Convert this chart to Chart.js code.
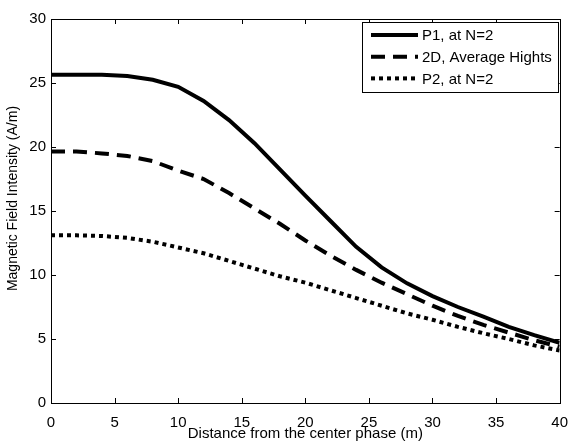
<!DOCTYPE html>
<html>
<head>
<meta charset="utf-8">
<script src="https://cdn.jsdelivr.net/npm/chart.js@4"></script>
<style>
  html, body { margin: 0; padding: 0; background: #fff; }
  canvas { display: block; }
</style>
</head>
<body>
<canvas id="fieldChart" width="571" height="443"></canvas>
<script>
// values
const distances = [0, 2, 4, 6, 8, 10, 12, 14, 16, 18, 20, 22, 24, 26, 28, 30, 32, 34, 36, 38, 40];
const p1Values = [25.65, 25.65, 25.65, 25.55, 25.25, 24.7, 23.6, 22.1, 20.3, 18.25, 16.2, 14.2, 12.2, 10.6, 9.35, 8.35, 7.5, 6.75, 5.95, 5.3, 4.7];
const avgValues = [19.65, 19.65, 19.5, 19.3, 18.9, 18.15, 17.5, 16.4, 15.2, 14.0, 12.7, 11.5, 10.4, 9.4, 8.5, 7.6, 6.8, 6.1, 5.5, 4.9, 4.4];
const p2Values = [13.1, 13.1, 13.05, 12.9, 12.6, 12.15, 11.7, 11.1, 10.5, 9.9, 9.4, 8.8, 8.2, 7.6, 7.0, 6.5, 5.95, 5.45, 5.0, 4.5, 4.1];
const seriesNames = ['P1, at N=2', '2D, Average Hights', 'P2, at N=2'];
const xTicks = [0, 5, 10, 15, 20, 25, 30, 35, 40];
const yTicks = [0, 5, 10, 15, 20, 25, 30];
const yTitle = 'Magnetic Field Intensity (A/m)';

const FONT = 'Liberation Sans, Arial, Helvetica, sans-serif';

function toPoints(values) {
    return distances.map((d, i) => ({ x: d, y: values[i] }));
}

// box, inward ticks on all four sides, y label and the legend, MATLAB style
const matlabFrame = {
    id: 'matlabFrame',
    afterDraw(chart) {
        const ctx = chart.ctx;
        const area = chart.chartArea;
        const xs = chart.scales.x;
        const ys = chart.scales.y;
        const tick = 5;

        ctx.save();
        ctx.strokeStyle = '#000';
        ctx.lineWidth = 1;
        ctx.beginPath();
        xTicks.forEach(v => {
            const px = Math.round(xs.getPixelForValue(v)) + 0.5;
            ctx.moveTo(px, area.bottom); ctx.lineTo(px, area.bottom - tick);
            ctx.moveTo(px, area.top); ctx.lineTo(px, area.top + tick);
        });
        yTicks.forEach(v => {
            const py = Math.round(ys.getPixelForValue(v)) + 0.5;
            ctx.moveTo(area.left, py); ctx.lineTo(area.left + tick, py);
            ctx.moveTo(area.right, py); ctx.lineTo(area.right - tick, py);
        });
        ctx.stroke();
        ctx.strokeRect(Math.round(area.left) + 0.5, Math.round(area.top) + 0.5,
            Math.round(area.right - area.left), Math.round(area.bottom - area.top));

        // y axis label (a bit above the plot centre, like the original)
        ctx.save();
        ctx.translate(17, 198.5);
        ctx.rotate(-Math.PI / 2);
        ctx.font = '14px ' + FONT;
        ctx.fillStyle = '#000';
        ctx.textAlign = 'center';
        ctx.textBaseline = 'alphabetic';
        ctx.fillText(yTitle, 0, 0);
        ctx.restore();

        // legend
        const bx = 362, by = 22, bw = 196, bh = 70;
        ctx.fillStyle = '#fff';
        ctx.fillRect(bx, by, bw, bh);
        ctx.strokeRect(bx + 0.5, by + 0.5, bw, bh);
        ctx.font = '15px ' + FONT;
        ctx.textBaseline = 'middle';
        chart.data.datasets.forEach((ds, i) => {
            const ry = by + 13 + i * 21.7;
            ctx.beginPath();
            ctx.setLineDash(ds.borderDash || []);
            ctx.lineWidth = ds.borderWidth;
            ctx.lineCap = 'butt';
            ctx.moveTo(bx + 9, ry);
            ctx.lineTo(bx + 56, ry);
            ctx.stroke();
            ctx.setLineDash([]);
            ctx.fillStyle = '#000';
            ctx.fillText(ds.label, bx + 60, ry + 1);
        });
        ctx.restore();
    }
};

new Chart(document.getElementById('fieldChart'), {
    type: 'line',
    data: {
        datasets: [{
            label: seriesNames[0],
            data: toPoints(p1Values),
            borderColor: '#000',
            borderWidth: 4,
            borderDash: [],
            pointRadius: 0,
            tension: 0,
            fill: false
        }, {
            label: seriesNames[1],
            data: toPoints(avgValues),
            borderColor: '#000',
            borderWidth: 4,
            borderDash: [14, 8],
            pointRadius: 0,
            tension: 0,
            fill: false
        }, {
            label: seriesNames[2],
            data: toPoints(p2Values),
            borderColor: '#000',
            borderWidth: 4,
            borderDash: [4, 4],
            pointRadius: 0,
            tension: 0,
            fill: false
        }]
    },
    options: {
        responsive: false,
        devicePixelRatio: 1,
        animation: false,
        layout: { padding: { top: 19, right: 10, left: 0, bottom: 0 } },
        plugins: {
            legend: { display: false },
            tooltip: { enabled: false }
        },
        scales: {
            x: {
                type: 'linear',
                min: 0,
                max: 40,
                afterFit: scale => { scale.height = 40; },
                afterBuildTicks: scale => { scale.ticks = xTicks.map(v => ({ value: v })); },
                grid: { display: false },
                border: { display: false },
                ticks: { color: '#000', font: { family: FONT, size: 15 }, padding: 3, maxRotation: 0 },
                title: {
                    display: true,
                    text: 'Distance from the center phase (m)',
                    color: '#000',
                    font: { family: FONT, size: 15 },
                    padding: 0
                }
            },
            y: {
                min: 0,
                max: 30,
                afterFit: scale => { scale.width = 51; },
                afterBuildTicks: scale => { scale.ticks = yTicks.map(v => ({ value: v })); },
                grid: { display: false, drawTicks: false },
                border: { display: false },
                ticks: { color: '#000', font: { family: FONT, size: 15 }, padding: 5 },
                title: { display: false }
            }
        }
    },
    plugins: [matlabFrame]
});
</script>
</body>
</html>
